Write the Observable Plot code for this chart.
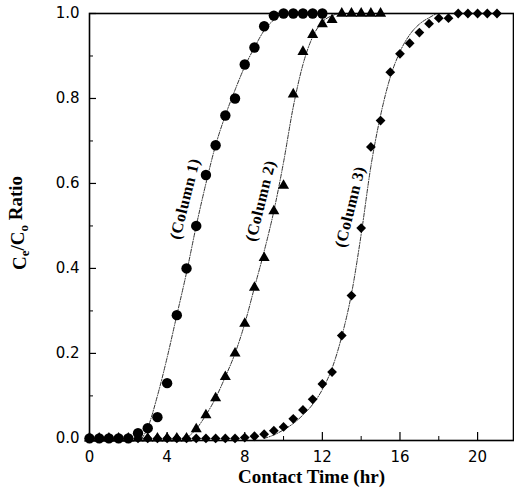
<!DOCTYPE html>
<html><head><meta charset="utf-8">
<script src="https://cdn.jsdelivr.net/npm/d3@7"></script>
<script src="https://cdn.jsdelivr.net/npm/@observablehq/plot@0.6"></script>
<style>body{margin:0;background:#fff} svg{display:block}</style>
</head><body><div id="chart"></div>
<script>
// ---- data ----
const col1Time  = [0,0.5,1,1.5,2,2.5,3,3.5,4,4.5,5,5.5,6,6.5,7,7.5,8,8.5,9,9.5,10,10.5,11,11.5,12];
const col1Ratio = [0,0,0,0,0,0.012,0.024,0.05,0.13,0.29,0.40,0.50,0.62,0.69,0.76,0.80,0.88,0.92,0.97,0.995,1,1,1,1,1];

const col2Time  = [0,0.5,1,1.5,2,2.5,3,3.5,4,4.5,5,5.5,6,6.5,7,7.5,8,8.5,9,9.5,10,10.5,11,11.5,12,12.5,13,13.5,14,14.5,15];
const col2Ratio = [0,0,0,0,0,0,0,0,0,0,0,0.022,0.055,0.095,0.145,0.20,0.27,0.355,0.425,0.535,0.595,0.81,0.91,0.95,0.975,0.985,1,1,1,1,1];

const col3Time  = [0,0.5,1,1.5,2,2.5,3,3.5,4,4.5,5,5.5,6,6.5,7,7.5,8,8.5,9,9.5,10,10.5,11,11.5,12,12.5,13,13.5,14,14.5,15,15.5,16,16.5,17,17.5,18,18.5,19,19.5,20,20.5,21];
const col3Ratio = [0,0,0,0,0,0,0,0,0,0,0,0,0,0,0,0,0.002,0.005,0.01,0.018,0.027,0.046,0.067,0.092,0.128,0.156,0.242,0.336,0.495,0.686,0.748,0.862,0.905,0.93,0.955,0.976,0.989,0.989,1,1,1,1,1];

// fitted (model) curves
const fit1Time  = [2.7,3,3.5,4,4.5,5,5.5,6,6.5,7,7.5,8,8.5,9,9.5,10,12];
const fit1Ratio = [0,0.025,0.1,0.19,0.29,0.39,0.5,0.6,0.69,0.76,0.82,0.875,0.92,0.96,0.985,1,1];
const fit2Time  = [5,5.5,6,6.5,7,7.5,8,8.5,9,9.5,10,10.5,11,11.5,12,12.5,13,15];
const fit2Ratio = [0,0.022,0.055,0.095,0.145,0.2,0.27,0.355,0.44,0.535,0.65,0.78,0.88,0.945,0.98,0.995,1,1];
const fit3Time  = [9,9.5,10,10.5,11,11.5,12,12.5,13,13.5,14,14.5,15,15.5,16,16.5,17,17.5,18,21.8];
const fit3Ratio = [0,0.008,0.02,0.035,0.055,0.08,0.115,0.165,0.24,0.34,0.48,0.64,0.76,0.85,0.91,0.95,0.975,0.99,1,1];

const columnNames = ["(Column 1)", "(Column 2)", "(Column 3)"];
const columnLabelTime  = [4.92, 8.82, 13.43];
const columnLabelRatio = [0.564, 0.559, 0.545];

const xTickLabels = [0, 4, 8, 12, 16, 20];
const xMinorTicks = [2, 6, 10, 14, 18];
const yTickLabels = [0, 0.2, 0.4, 0.6, 0.8, 1.0];
const yMinorTicks = [0.1, 0.3, 0.5, 0.7, 0.9];

const xTitle = "Contact Time (hr)";
const yTitle = "Ce/Co Ratio";

// ---- build tables ----
const zip = (t, v, s) => t.map((d, i) => ({time: d, ratio: v[i], series: s}));
const pts1 = zip(col1Time, col1Ratio, "Column 1");
const pts2 = zip(col2Time, col2Ratio, "Column 2");
const pts3 = zip(col3Time, col3Ratio, "Column 3");
const fits = [
  ...zip(fit1Time, fit1Ratio, "Column 1"),
  ...zip(fit2Time, fit2Ratio, "Column 2"),
  ...zip(fit3Time, fit3Ratio, "Column 3")
];
const labels = columnNames.map((n, i) => ({name: n, time: columnLabelTime[i], ratio: columnLabelRatio[i]}));

// ---- layout ----
const W = 514, H = 497, mL = 89, mR = 1, mT = 13, mB = 57;
const xDom = [0, 21.85], yDom = [-0.005, 1.0];
const kx = (W - mL - mR) / (xDom[1] - xDom[0]);
const ky = (H - mT - mB) / (yDom[1] - yDom[0]);
const serif = "'Liberation Serif', 'Times New Roman', serif";
const sans = "'DejaVu Sans', sans-serif";

const plot = Plot.plot({
  width: W, height: H,
  marginLeft: mL, marginRight: mR, marginTop: mT, marginBottom: mB,
  x: {domain: xDom},
  y: {domain: yDom},
  style: {background: "#fff", color: "#000", fontFamily: sans, fontSize: "14px"},
  marks: [
    // inward ticks
    Plot.ruleX(xTickLabels, {x: d => d, y1: () => yDom[0], y2: () => yDom[0] + 8 / ky, stroke: "#000", strokeWidth: 1.2}),
    Plot.ruleX(xMinorTicks, {x: d => d, y1: () => yDom[0], y2: () => yDom[0] + 4 / ky, stroke: "#000", strokeWidth: 1}),
    Plot.ruleY(yTickLabels, {y: d => d, x1: () => xDom[0], x2: () => xDom[0] + 7 / kx, stroke: "#000", strokeWidth: 1.2}),
    Plot.ruleY(yMinorTicks, {y: d => d, x1: () => xDom[0], x2: () => xDom[0] + 4 / kx, stroke: "#000", strokeWidth: 1}),
    Plot.axisX(xTickLabels, {tickSize: 0, tickPadding: 11, label: null, fontSize: 15, fontFamily: sans, tickFormat: d => String(d)}),
    Plot.axisY(yTickLabels, {tickSize: 0, tickPadding: 10, label: null, fontSize: 15, fontFamily: sans, tickFormat: d => d.toFixed(1)}),
    // fitted curves
    Plot.line(fits, {x: "time", y: "ratio", z: "series", curve: "monotone-x", stroke: "#333", strokeWidth: 1, strokeDasharray: "4,1.5,1,1.5"}),
    // data points
    Plot.dot(pts3, {x: "time", y: "ratio", symbol: "diamond2", r: 4.4, fill: "#000", stroke: "none"}),
    Plot.dot(pts2, {x: "time", y: "ratio", symbol: "triangle", r: 4.1, fill: "#000", stroke: "none"}),
    Plot.dot(pts1, {x: "time", y: "ratio", symbol: "circle", r: 5.2, fill: "#000", stroke: "none"}),
    // frame
    Plot.frame({stroke: "#000", strokeWidth: 1.6}),
    // column labels
    Plot.text(labels, {x: "time", y: "ratio", text: "name", rotate: -76, fontSize: 16, fontWeight: "bold", fontFamily: serif, fill: "#000"}),
    // axis titles
    Plot.text([xTitle], {text: d => d, frameAnchor: "bottom", textAnchor: "middle", lineAnchor: "middle", dx: 10, dy: 36, fontSize: 19, fontWeight: "bold", fontFamily: serif, fill: "#000"}),
    Plot.text([yTitle], {text: d => d, frameAnchor: "left", textAnchor: "middle", lineAnchor: "middle", dx: -70, dy: -4, rotate: -90, fontSize: 19, fontWeight: "bold", fontFamily: serif, fill: "#000"})
  ]
});

// subscripts in the y title, slight letter spacing on the column labels
d3.select(plot).selectAll("text").each(function() {
  const t = d3.select(this);
  const s = t.text();
  if (s === yTitle) {
    t.text(null);
    t.append("tspan").text("C");
    t.append("tspan").attr("dy", "0.3em").attr("font-size", "13").text("e");
    t.append("tspan").attr("dy", "-0.3em").text("/C");
    t.append("tspan").attr("dy", "0.3em").attr("font-size", "13").text("o");
    t.append("tspan").attr("dy", "-0.3em").text(" Ratio");
  } else if (columnNames.includes(s)) {
    t.style("letter-spacing", "0.5px");
  }
});

document.getElementById("chart").appendChild(plot);
</script>
</body></html>
